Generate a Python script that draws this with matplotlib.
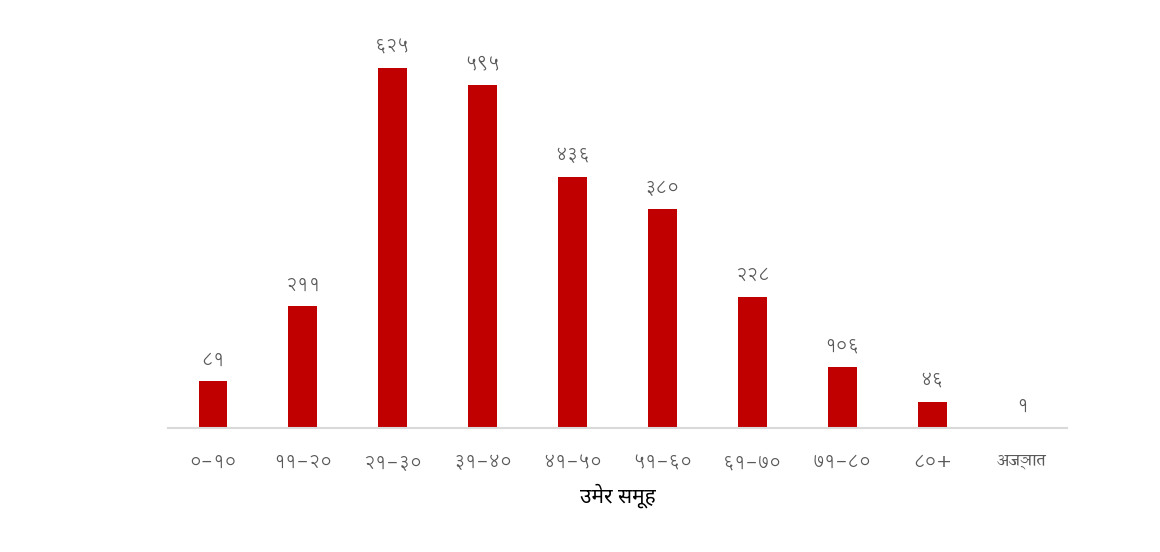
import matplotlib
matplotlib.use('Agg')
import matplotlib.pyplot as plt

categories = ['०-१०', '११-२०', '२१-३०', '३१-४०', '४१-५०', '५१-६०', '६१-७०', '७१-८०', '८०+', 'अज्ञात']
values = [81, 211, 625, 595, 436, 380, 228, 106, 46, 1]
value_labels = ['८१', '२११', '६२५', '५९५', '४३६', '३८०', '२२८', '१०६', '४६', '१']
xlabel = 'उमेर समूह'

plt.rcParams['font.family'] = ['Lohit Devanagari', 'Noto Sans Devanagari', 'DejaVu Sans']

fig = plt.figure(figsize=(11.6, 5.52), dpi=100)
ax = fig.add_axes([168/1160, 1-428/552, (1067-168)/1160, 403.2/552])

x = list(range(len(categories)))
ax.bar(x, values, width=0.32, color='#C00000', zorder=2)
ax.set_xlim(-0.5, len(categories)-0.5)
ax.set_ylim(0, 700)

for xi, v, lab in zip(x, values, value_labels):
    ax.annotate(lab, (xi, v), xytext=(0, 9), textcoords='offset points',
                ha='center', va='bottom', fontsize=13, color='#595959')

ax.set_xticks(x)
ax.set_xticklabels(categories, fontsize=13, color='#595959')
ticklabels = ax.get_xticklabels()
ticklabels[-1].set_family(['Sumana', 'Noto Sans Devanagari', 'DejaVu Sans'])
ticklabels[-1].set_fontsize(12.5)
ax.tick_params(axis='x', length=0, pad=18)
ax.set_yticks([])
for s in ['top', 'right', 'left']:
    ax.spines[s].set_visible(False)
ax.spines['bottom'].set_color('#D9D9D9')
ax.spines['bottom'].set_linewidth(1.5)

ax.set_xlabel(xlabel, fontsize=15, fontweight='bold', color='black', labelpad=9,
              family=['Noto Sans Devanagari', 'DejaVu Sans'])

fig.savefig('out.png', dpi=100)
